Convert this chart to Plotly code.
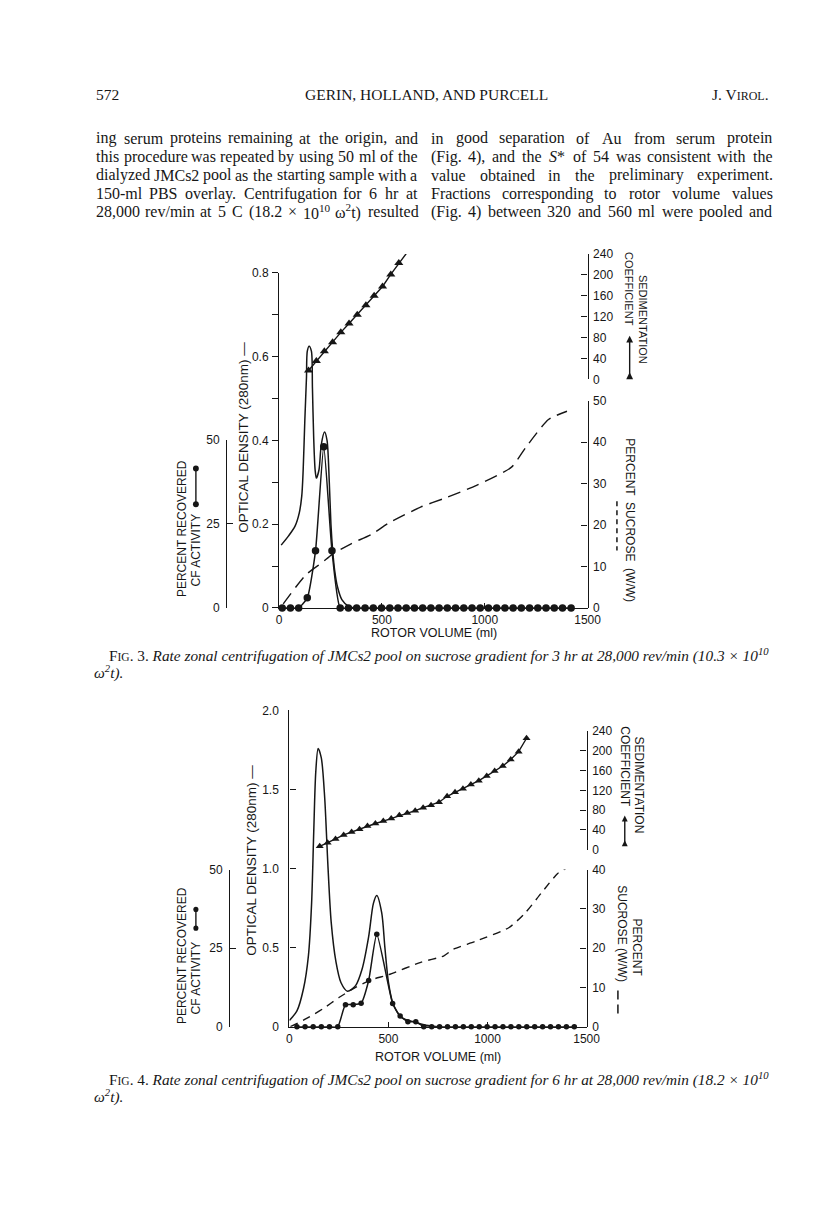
import re
import plotly.graph_objects as go

W, H = 816, 1207

# ---------------- Fig. 3 data ----------------
f3_od_vol = [10, 46, 78, 98, 110, 117, 125, 133, 137, 146, 157, 162, 168, 175, 181, 194, 205, 221,
             233, 244, 252, 260, 270, 284, 305, 340, 375]
f3_od = [0.15, 0.172, 0.196, 0.227, 0.267, 0.33, 0.448, 0.55, 0.613, 0.625, 0.613, 0.526, 0.408, 0.33,
         0.31, 0.33, 0.39, 0.42, 0.40, 0.30, 0.20, 0.14, 0.09, 0.05, 0.02, 0.003, 0.0]

f3_cf_vol = [15, 55, 95, 137, 177, 217, 257, 297, 337, 377, 418, 458, 498, 538, 578, 618, 658, 698,
             738, 778, 818, 858, 898, 938, 978, 1018, 1058, 1098, 1138, 1178, 1218, 1258, 1298,
             1338, 1378, 1420]
f3_cf = [0, 0, 0, 3, 17, 48, 17, 0, 0, 0, 0, 0, 0, 0, 0, 0, 0, 0,
         0, 0, 0, 0, 0, 0, 0, 0, 0, 0, 0, 0, 0, 0, 0, 0, 0, 0]

f3_sed_vol = [143, 181, 220, 260, 300, 340, 380, 422, 462, 503, 543, 582, 622]
f3_sed = [17, 35, 54, 71, 90, 107, 124, 142, 160, 178, 201, 223, 243]

f3_suc_vol = [20, 130, 210, 260, 350, 450, 530, 690, 800, 960, 1130, 1200, 1310, 1400]
f3_suc = [1, 8, 11, 13, 15.5, 17.8, 20.4, 24.4, 26.4, 29.6, 34, 38.8, 45.5, 47.5]

# ---------------- Fig. 4 data ----------------
f4_od_vol = [0, 38, 71, 96, 112, 123, 133, 145, 161, 178, 194, 211, 235, 260, 293, 334, 367, 400,
             424, 441, 466, 482, 500, 522, 564, 630, 690, 760]
f4_od = [0.04, 0.10, 0.24, 0.45, 0.78, 1.24, 1.61, 1.76, 1.70, 1.45, 1.03, 0.66, 0.41, 0.28, 0.225,
         0.26, 0.365, 0.57, 0.78, 0.83, 0.72, 0.50, 0.28, 0.15, 0.06, 0.03, 0.01, 0.0]

f4_cf_vol = [38, 79, 120, 161, 202, 244, 283, 322, 362, 400, 441, 521, 559, 598, 638, 678, 718, 758,
             798, 838, 878, 918, 958, 998, 1038, 1078, 1118, 1158, 1198, 1238, 1278, 1318, 1358,
             1398, 1438]
f4_cf = [0, 0, 0, 0, 0, 0, 7, 7, 7.5, 14.7, 29.4, 7.4, 3.4, 1.6, 1.6, 0, 0, 0,
         0, 0, 0, 0, 0, 0, 0, 0, 0, 0, 0, 0, 0, 0, 0, 0, 0]

f4_sed_vol = [153, 193, 233, 274, 314, 354, 394, 434, 474, 514, 555, 595, 635, 675, 715, 755, 796,
              836, 876, 916, 956, 996, 1036, 1077, 1117, 1157, 1197]
f4_sed = [7, 14, 22, 30, 36, 41.5, 48, 53, 58, 63, 69.5, 74, 79, 85, 90, 96, 108,
          116, 123, 131.5, 139.5, 149, 159, 169, 182, 198, 225]

f4_suc_vol = [5, 87, 170, 252, 334, 416, 498, 663, 778, 827, 942, 1107, 1189, 1271, 1354, 1403]
f4_suc = [0, 2.1, 4.6, 7.5, 10, 12, 13.2, 16.4, 18, 19.7, 21.8, 25.2, 28.9, 34, 39, 40.5]

x_ticks = [0, 500, 1000, 1500]

# ---------------- page text ----------------
left_lines = [
    "ing serum proteins remaining at the origin, and",
    "this procedure was repeated by using 50 ml of the",
    "dialyzed JMCs2 pool as the starting sample with a",
    "150-ml PBS overlay. Centrifugation for 6 hr at",
    "28,000 rev/min at 5 C (18.2 × 10<sup>10</sup> ω<sup>2</sup>t) resulted",
]
right_lines = [
    "in good separation of Au from serum protein",
    "(Fig. 4), and the <i>S</i>* of 54 was consistent with the",
    "value obtained in the preliminary experiment.",
    "Fractions corresponding to rotor volume values",
    "(Fig. 4) between 320 and 560 ml were pooled and",
]
cap3_line1 = ("F<span style='font-size:11.5px'>IG</span>. 3. <i>Rate zonal centrifugation of JMCs2 pool on "
              "sucrose gradient for 3 hr at 28,000 rev/min (10.3 × 10<sup>10</sup></i>")
cap4_line1 = ("F<span style='font-size:11.5px'>IG</span>. 4. <i>Rate zonal centrifugation of JMCs2 pool on "
              "sucrose gradient for 6 hr at 28,000 rev/min (18.2 × 10<sup>10</sup></i>")
cap_line2 = "<i>ω<sup>2</sup>t).</i>"

INK = "#161616"
SANS = "Liberation Sans"
SERIF = "Liberation Serif"


def X(px):
    return px / W


def Y(py):
    return 1 - py / H


fig = go.Figure()

common_axis = dict(showgrid=False, zeroline=False, showline=True, linecolor=INK, linewidth=1.3,
                   tickcolor=INK, tickwidth=1.3, tickfont=dict(family=SANS, size=12, color=INK))


def panel(k, geo, od_vol, od, cf_vol, cf, sed_vol, sed, suc_vol, suc):
    xa = "x" if k == 0 else "x2"
    ya = ["y", "y2", "y3", "y4"] if k == 0 else ["y5", "y6", "y7", "y8"]
    xname = "xaxis" if k == 0 else "xaxis2"
    ynames = ["yaxis" + a[1:] for a in ya]

    fig.add_trace(go.Scatter(x=od_vol, y=od, xaxis=xa, yaxis=ya[0], mode="lines",
                             line=dict(color=INK, width=1.5, shape="spline", smoothing=0.8),
                             cliponaxis=False, showlegend=False))
    fig.add_trace(go.Scatter(x=suc_vol, y=suc, xaxis=xa, yaxis=ya[2], mode="lines",
                             line=dict(color=INK, width=1.4, dash=geo["dash"], shape="spline",
                                       smoothing=0.6),
                             showlegend=False))
    fig.add_trace(go.Scatter(x=cf_vol, y=cf, xaxis=xa, yaxis=ya[1], mode="lines+markers",
                             line=dict(color=INK, width=1.5, shape="spline", smoothing=0.5),
                             marker=dict(symbol="circle", size=geo["dot"], color=INK),
                             cliponaxis=False, showlegend=False))
    fig.add_trace(go.Scatter(x=sed_vol, y=sed, xaxis=xa, yaxis=ya[3], mode="lines+markers",
                             line=dict(color=INK, width=1.4),
                             marker=dict(symbol="triangle-up", size=geo["tri"], color=INK),
                             cliponaxis=False, showlegend=False))

    od_axis = dict(common_axis, domain=[Y(geo["base"]), Y(geo["od_top"])],
                   range=[0, geo["od_max"]], anchor=xa, side="left",
                   tickvals=geo["od_tv"], ticktext=geo["od_tt"], ticks=geo["od_ticks"],
                   ticklen=6, ticklabelstandoff=geo["od_standoff"])
    if geo.get("od_minor"):
        od_axis["minor"] = dict(tickvals=geo["od_minor"], ticks=geo["od_ticks"], ticklen=6,
                                tickcolor=INK, tickwidth=1.3, showgrid=False)

    fig.update_layout({
        xname: dict(common_axis, domain=[X(geo["x0"]), X(geo["x1"])], range=[0, 1500],
                    anchor=ya[0], tickvals=x_ticks, ticks="inside", ticklen=5,
                    ticklabelstandoff=1),
        ynames[0]: od_axis,
        ynames[1]: dict(common_axis, domain=[Y(geo["base"]), Y(geo["cf_top"])], range=[0, 50],
                        anchor="free", position=X(geo["cf_x"]), side="left",
                        tickvals=[0, 25, 50], ticks="inside", ticklen=6, ticklabelstandoff=4),
        ynames[2]: dict(common_axis, domain=[Y(geo["base"]), Y(geo["suc_top"])],
                        range=[0, geo["suc_max"]], anchor=xa, side="right",
                        dtick=10, ticks="inside", ticklen=6, ticklabelstandoff=2),
        ynames[3]: dict(common_axis, domain=[Y(geo["sed_bot"]), Y(geo["sed_top"])],
                        range=[0, 240], anchor=xa, side="right",
                        dtick=40, ticks="inside", ticklen=6, ticklabelstandoff=2),
    })


panel(0, dict(x0=282, x1=597, base=608, od_top=269, od_max=0.8,
              od_tv=[0, 0.2, 0.4, 0.6, 0.8], od_tt=["0", "0.2", "0.4", "0.6", "0.8"],
              od_minor=[0.1, 0.3, 0.5, 0.7],
              od_ticks="outside", od_standoff=1,
              cf_top=438, cf_x=228, suc_top=398.5, suc_max=50, sed_bot=376.7, sed_top=250,
              dash="13px,7px", dot=7.5, tri=8),
      f3_od_vol, f3_od, f3_cf_vol, f3_cf, f3_sed_vol, f3_sed, f3_suc_vol, f3_suc)

panel(1, dict(x0=292.5, x1=596, base=1031.7, od_top=711.7, od_max=2.0,
              od_tv=[0, 0.5, 1.0, 1.5, 2.0], od_tt=["0", "0.5", "1.0", "1.5", "2.0"],
              od_ticks="inside", od_standoff=7,
              cf_top=872.7, cf_x=231, suc_top=872.7, suc_max=40, sed_bot=852.7, sed_top=732.3,
              dash="8px,6px", dot=5.5, tri=7),
      f4_od_vol, f4_od, f4_cf_vol, f4_cf, f4_sed_vol, f4_sed, f4_suc_vol, f4_suc)

ann = []


def text(x, y, s, size=12.5, family=SANS, angle=0, xanchor="center", color=INK):
    ann.append(dict(x=X(x), y=Y(y), xref="paper", yref="paper", text=s, showarrow=False,
                    textangle=angle, xanchor=xanchor, yanchor="middle", borderpad=0,
                    font=dict(family=family, size=size, color=color)))


# Times / Liberation Serif advance widths (1/1000 em)
TW = dict(zip("abcdefghijklmnopqrstuvwxyz",
              [444, 500, 444, 500, 444, 333, 500, 500, 278, 278, 500, 278, 778, 500, 500, 500, 500,
               333, 389, 278, 500, 500, 722, 500, 500, 444]))
TW.update(zip("ABCDEFGHIJKLMNOPQRSTUVWXYZ",
              [722, 667, 667, 722, 611, 556, 722, 722, 333, 389, 722, 611, 889, 722, 722, 556, 722,
               667, 556, 611, 722, 722, 944, 722, 722, 611]))
TW.update({c: 500 for c in "0123456789"})
TW.update({",": 250, ".": 250, "(": 333, ")": 333, "-": 333, "*": 500, "/": 278, "×": 564,
           "ω": 690, ":": 278})


def word_width(html, fs):
    total = 0.0
    scale = [1.0]
    for tok in re.findall(r"<[^>]+>|[^<]+", html):
        if tok.startswith("<"):
            if tok.startswith("<sup"):
                scale.append(scale[-1] * 0.7)
            elif tok.startswith("<span"):
                m = re.search(r"font-size:\s*([\d.]+)px", tok)
                scale.append(float(m.group(1)) / fs if m else scale[-1])
            elif tok in ("</sup>", "</span>") and len(scale) > 1:
                scale.pop()
        else:
            for ch in tok:
                total += TW.get(ch, 500) * scale[-1]
    return total * fs / 1000.0


def justify(line, x0, x1, y, fs, family=SERIF):
    words = re.split(r" (?![^<]*>)", line)
    widths = [word_width(w, fs) for w in words]
    gap = (x1 - x0 - sum(widths)) / max(len(words) - 1, 1)
    x = x0
    for w, wd in zip(words, widths):
        text(x, y, w, size=fs, family=family, xanchor="left")
        x += wd + gap


# page header
text(94, 89, "572", size=15.5, family=SERIF, xanchor="left")
text(432, 89, "GERIN, HOLLAND, AND PURCELL", size=15.5, family=SERIF)
text(783, 89, "J. V<span style='font-size:12px'>IROL</span>.", size=15.5, family=SERIF,
     xanchor="right")

BODY_FS = 16
for i, (a, b) in enumerate(zip(left_lines, right_lines)):
    yy = 133 + i * 18.6
    justify(a, 94, 422, yy, BODY_FS)
    justify(b, 436, 784, yy, BODY_FS)

# Fig 3 axis labels
text(183, 528, "PERCENT RECOVERED", size=12, angle=-90)
text(197, 549, "CF ACTIVITY", size=12, angle=-90)
text(246, 435, "OPTICAL DENSITY (280nm) —", size=13.5, angle=-90)
text(440, 633, "ROTOR VOLUME (ml)")
text(653, 316, "SEDIMENTATION", size=11, angle=90)
text(640, 285, "COEFFICIENT", size=11, angle=90)
text(640, 519, "PERCENT  SUCROSE  (W/W)", size=12, angle=90)

# Fig 4 axis labels
text(183, 960, "PERCENT RECOVERED", size=12, angle=-90)
text(197, 982, "CF ACTIVITY", size=12, angle=-90)
text(254, 863, "OPTICAL DENSITY (280nm) —", size=13.5, angle=-90)
text(444, 1062, "ROTOR VOLUME (ml)")
text(650, 787, "SEDIMENTATION", size=12, angle=90)
text(635, 769, "COEFFICIENT", size=12, angle=90)
text(648, 951, "PERCENT", size=12, angle=90)
text(632, 938, "SUCROSE (W/W)", size=12, angle=90)

# captions
CAP_FS = 15.3
text(107, 656, cap3_line1, size=CAP_FS, family=SERIF, xanchor="left")
text(92, 673, cap_line2, size=CAP_FS, family=SERIF, xanchor="left")
text(107, 1085, cap4_line1, size=CAP_FS, family=SERIF, xanchor="left")
text(92, 1102, cap_line2, size=CAP_FS, family=SERIF, xanchor="left")

# legend symbols
shapes = []


def seg(x0, y0, x1, y1, dash="solid", width=1.4):
    shapes.append(dict(type="line", xref="paper", yref="paper", x0=X(x0), y0=Y(y0), x1=X(x1),
                       y1=Y(y1), line=dict(color=INK, width=width, dash=dash)))


def dot(x, y, r=3):
    shapes.append(dict(type="circle", xref="paper", yref="paper", x0=X(x - r), x1=X(x + r),
                       y0=Y(y + r), y1=Y(y - r), fillcolor=INK, line=dict(color=INK, width=0)))


def tri(x, y, r=3.5):
    path = "M {} {} L {} {} L {} {} Z".format(X(x - r), Y(y + r), X(x + r), Y(y + r), X(x), Y(y - r))
    shapes.append(dict(type="path", xref="paper", yref="paper", path=path, fillcolor=INK,
                       line=dict(color=INK, width=0)))


# fig 3
seg(197, 467, 197, 503)
dot(197, 467)
dot(197, 503)
seg(640, 336, 640, 373)
tri(640, 336)
tri(640, 373)
seg(627, 500, 627, 550, dash="5px,4px", width=1.5)
# fig 4
seg(197, 913, 197, 932)
dot(197, 913, 2.6)
dot(197, 932, 2.6)
seg(635, 821, 635, 846)
tri(635, 821, 3)
tri(635, 846, 3)
seg(628, 995, 628, 1023, dash="9px,5px", width=1.5)

fig.update_layout(width=W, height=H, margin=dict(l=0, r=0, t=0, b=0),
                  paper_bgcolor="white", plot_bgcolor="rgba(0,0,0,0)",
                  annotations=ann, shapes=shapes, showlegend=False)

fig.write_html("out.html", config={"displayModeBar": False},
               post_script="document.body.style.margin='0px';document.body.style.overflow='hidden';")
